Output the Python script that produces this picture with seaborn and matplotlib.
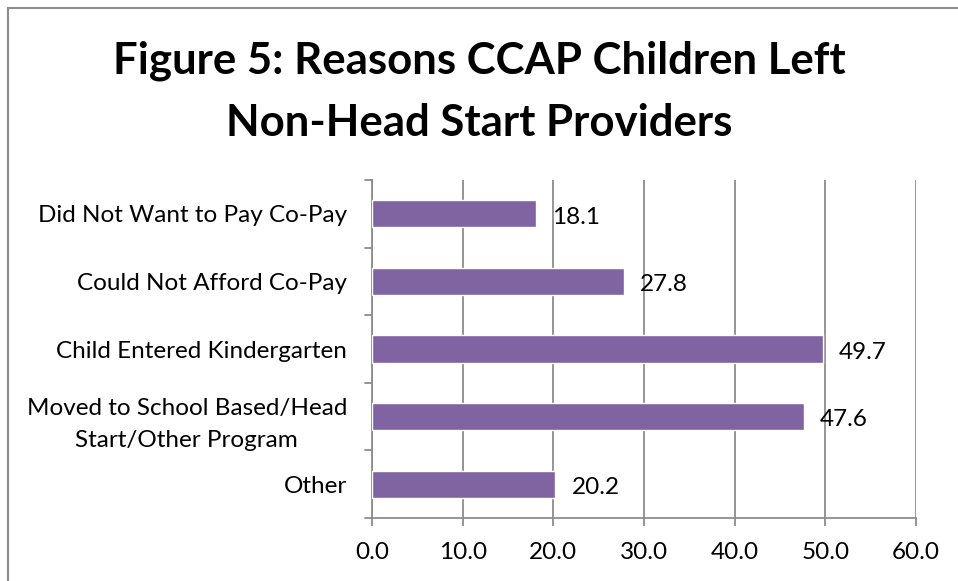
import matplotlib
matplotlib.use("Agg")
import matplotlib.pyplot as plt
import seaborn as sns
import pandas as pd
from matplotlib.patches import Rectangle

categories = ["Did Not Want to Pay Co-Pay", "Could Not Afford Co-Pay",
              "Child Entered Kindergarten",
              "Moved to School Based/Head\nStart/Other Program", "Other"]
values = [18.1, 27.8, 49.7, 47.6, 20.2]
xticks = [0, 10, 20, 30, 40, 50, 60]
title = "Figure 5: Reasons CCAP Children Left\nNon-Head Start Providers"

sns.set_theme(style="white")
plt.rcParams['font.family'] = ['Lato', 'DejaVu Sans']

W, H = 958, 581
fig = plt.figure(figsize=(W / 100, H / 100), dpi=100)
ax = fig.add_axes([372 / W, 1 - 518 / H, (916 - 372) / W, (518 - 180) / H])

df = pd.DataFrame({"cat": categories, "val": values})
sns.barplot(data=df, y="cat", x="val", orient="h", color="#8064A2",
            saturation=1, width=0.4, ax=ax, zorder=3)

FS = 17.5
ax.set_xlim(0, 60)
ax.set_ylim(len(categories) - 0.5, -0.5)
ax.set_xticks(xticks)
ax.set_xticklabels([f"{v:.1f}" for v in xticks], fontsize=FS, color="black")
ax.set_yticks(range(len(categories)))
ax.set_yticklabels(categories, fontsize=FS, color="black", ha="right",
                   multialignment="center", linespacing=1.65)
ax.tick_params(axis="y", length=0, pad=18)
ax.set_xlabel("")
ax.set_ylabel("")

ax.grid(axis="x", color="#8c8c8c", linewidth=1.3, zorder=0)
ax.set_axisbelow(True)
for s in ["top", "right"]:
    ax.spines[s].set_visible(False)
for s in ["left", "bottom"]:
    ax.spines[s].set_color("#8c8c8c")
    ax.spines[s].set_linewidth(1.3)

# category boundary tick marks on the y axis
for b in [i - 0.5 for i in range(len(categories) + 1)]:
    ax.plot([-0.012, 0], [b, b], transform=ax.get_yaxis_transform(),
            color="#8c8c8c", lw=1.3, clip_on=False)
ax.tick_params(axis="x", length=6, width=1.3, color="#8c8c8c", direction="out",
               pad=11, bottom=True)

for i, v in enumerate(values):
    ax.text(v + 1.8, i + 0.05, f"{v:.1f}", va="center", ha="left",
            fontsize=FS, color="black")

fig.text(0.5, 1 - 92 / H, title, ha="center", va="center", fontsize=31.5,
         fontweight="bold", linespacing=1.66, color="black")

fig.patches.append(Rectangle((8 / W, -0.1), 1.2, 1 - 8 / H + 0.1,
                             transform=fig.transFigure, fill=False,
                             edgecolor="#8c8c8c", linewidth=1.5))

fig.savefig("out.png", dpi=100)
